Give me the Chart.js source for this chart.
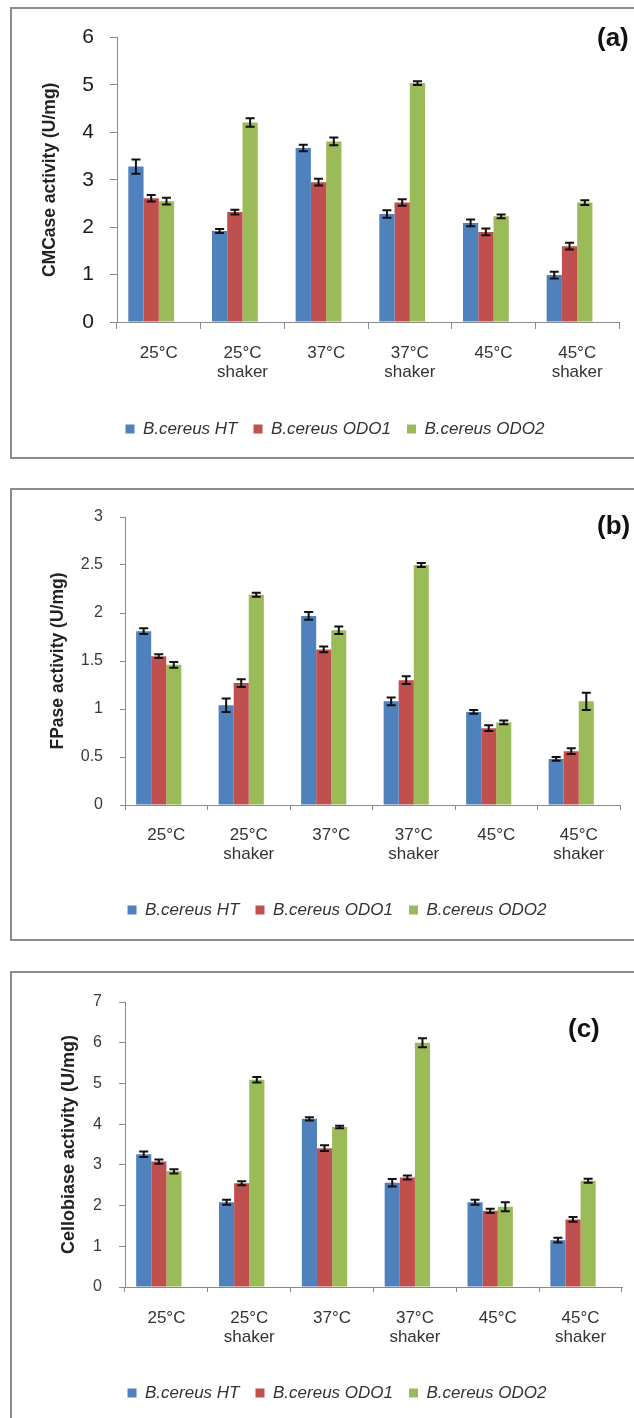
<!DOCTYPE html>
<html><head><meta charset="utf-8">
<script src="https://cdn.jsdelivr.net/npm/chart.js@4.4.0/dist/chart.umd.min.js"></script>
<style>
html,body{margin:0;padding:0;background:#fff;overflow:hidden;width:634px;height:1418px;position:relative;}
.frame{position:absolute;border:2px solid #8c8c8c;box-sizing:border-box;}
canvas{position:absolute;}
.tag{position:absolute;font:bold 26px "Liberation Sans",Arial,sans-serif;color:#111;line-height:30px;}
</style></head><body>
<div class="frame" style="left:10px;top:7px;width:700px;height:452px"></div>
<div class="frame" style="left:10px;top:488px;width:700px;height:453px"></div>
<div class="frame" style="left:10px;top:971px;width:700px;height:500px"></div>
<canvas id="ca" width="646" height="448" style="left:12px;top:9px"></canvas>
<canvas id="cb" width="650" height="449" style="left:12px;top:490px"></canvas>
<canvas id="cc" width="650" height="449" style="left:12px;top:973px"></canvas>
<div class="tag" style="left:597px;top:22px">(a)</div>
<div class="tag" style="left:597px;top:510px">(b)</div>
<div class="tag" style="left:568px;top:1013px">(c)</div>
<script>
// ---------- data ----------
const categories = ['25°C', ['25°C','shaker'], '37°C', ['37°C','shaker'], '45°C', ['45°C','shaker']];
const seriesNames = ['B.cereus HT', 'B.cereus ODO1', 'B.cereus ODO2'];

// (a) CMCase activity (U/mg)
const cmcHT      = [3.28, 1.92, 3.67, 2.28, 2.09, 0.99];
const cmcODO1    = [2.61, 2.32, 2.95, 2.52, 1.90, 1.60];
const cmcODO2    = [2.55, 4.21, 3.81, 5.04, 2.23, 2.52];
const cmcErrHT   = [0.15, 0.04, 0.07, 0.08, 0.07, 0.07];
const cmcErrODO1 = [0.07, 0.05, 0.07, 0.07, 0.07, 0.07];
const cmcErrODO2 = [0.07, 0.09, 0.08, 0.04, 0.04, 0.05];
const cmcTicks   = [0, 1, 2, 3, 4, 5, 6];

// (b) FPase activity (U/mg)
const fpHT      = [1.81, 1.04, 1.97, 1.08, 0.97, 0.48];
const fpODO1    = [1.55, 1.27, 1.62, 1.30, 0.80, 0.56];
const fpODO2    = [1.46, 2.19, 1.82, 2.50, 0.86, 1.08];
const fpErrHT   = [0.03, 0.07, 0.04, 0.04, 0.02, 0.02];
const fpErrODO1 = [0.02, 0.04, 0.03, 0.04, 0.03, 0.03];
const fpErrODO2 = [0.03, 0.02, 0.04, 0.02, 0.02, 0.09];
const fpTicks   = [0, 0.5, 1, 1.5, 2, 2.5, 3];

// (c) Cellobiase activity (U/mg)
const cbHT      = [3.26, 2.08, 4.13, 2.56, 2.08, 1.15];
const cbODO1    = [3.08, 2.55, 3.41, 2.69, 1.87, 1.66];
const cbODO2    = [2.84, 5.09, 3.93, 6.00, 1.97, 2.61];
const cbErrHT   = [0.07, 0.06, 0.04, 0.09, 0.06, 0.06];
const cbErrODO1 = [0.05, 0.05, 0.07, 0.05, 0.05, 0.06];
const cbErrODO2 = [0.05, 0.07, 0.03, 0.11, 0.11, 0.05];
const cbTicks   = [0, 1, 2, 3, 4, 5, 6, 7];

// empty 4th slot of the original Excel series layout (keeps bars left of centre)
const emptySlot = [null, null, null, null, null, null];

const COLORS = ['#4F81BD', '#C0504D', '#9BBB59'];
const FONT = '"Liberation Sans", Arial, sans-serif';

const errorBarPlugin = {
  id: 'errorBars',
  afterDatasetsDraw(chart) {
    const ctx = chart.ctx, ys = chart.scales.y;
    chart.data.datasets.forEach((ds, i) => {
      if (!ds.errors) return;
      const meta = chart.getDatasetMeta(i);
      meta.data.forEach((bar, j) => {
        const v = ds.data[j], e = ds.errors[j];
        if (v == null || e == null) return;
        const x = bar.x;
        const yt = ys.getPixelForValue(v + e), yb = ys.getPixelForValue(v - e);
        ctx.save();
        ctx.strokeStyle = '#111';
        ctx.lineWidth = 2;
        ctx.beginPath();
        ctx.moveTo(x, yt); ctx.lineTo(x, yb);
        ctx.moveTo(x - 4.5, yt); ctx.lineTo(x + 4.5, yt);
        ctx.moveTo(x - 4.5, yb); ctx.lineTo(x + 4.5, yb);
        ctx.stroke();
        ctx.restore();
      });
    });
  }
};

function build(id, p) {
  const datasets = p.values.map((vals, k) => ({
    label: seriesNames[k], data: vals, errors: p.errors[k],
    backgroundColor: COLORS[k], borderWidth: 0
  }));
  datasets.push({ label: '', data: emptySlot, backgroundColor: 'rgba(0,0,0,0)', borderWidth: 0 });
  return new Chart(document.getElementById(id), {
    type: 'bar',
    data: { labels: categories, datasets },
    options: {
      responsive: false, animation: false, devicePixelRatio: 1,
      datasets: { bar: { categoryPercentage: 0.73, barPercentage: 1 } },
      layout: { padding: { left: 0, right: 0, top: p.top, bottom: p.bottom } },
      plugins: {
        tooltip: { enabled: false },
        legend: {
          position: 'bottom',
          labels: {
            filter: it => it.text !== '',
            boxWidth: 9, boxHeight: 9, padding: 16, color: '#333',
            font: { family: FONT, size: 17, style: 'italic' }
          }
        }
      },
      scales: {
        x: {
          grid: { display: true, drawOnChartArea: false, drawTicks: true, tickLength: p.xTick, color: '#8a8a8a' },
          border: { display: true, color: '#8a8a8a', width: 1 },
          ticks: { color: '#333', padding: p.xPad, maxRotation: 0, autoSkip: false,
                   font: { family: FONT, size: 17, lineHeight: 1.12 } },
          afterFit: s => { s.height = p.xH; }
        },
        y: {
          position: 'left', min: p.ticks[0], max: p.ticks[p.ticks.length - 1],
          afterBuildTicks: s => { s.ticks = p.ticks.map(v => ({ value: v })); },
          grid: { display: true, drawOnChartArea: false, drawTicks: true, tickLength: p.yTick, color: '#8a8a8a' },
          border: { display: true, color: '#8a8a8a', width: 1 },
          ticks: { color: p.tickColor, padding: p.yPad, font: { family: FONT, size: p.tickSize },
                   callback: v => String(v) },
          title: { display: true, text: p.title, color: '#222',
                   padding: { top: p.titlePad, bottom: 0 },
                   font: { family: FONT, size: p.titleSize, weight: 'bold' } },
          afterFit: s => { s.width = p.yW; }
        },
        yR: {
          position: 'right', display: true,
          grid: { display: false }, border: { display: false }, ticks: { display: false },
          afterFit: s => { s.width = p.rW; }
        }
      }
    },
    plugins: [errorBarPlugin]
  });
}

build('ca', {
  values: [cmcHT, cmcODO1, cmcODO2], errors: [cmcErrHT, cmcErrODO1, cmcErrODO2],
  ticks: cmcTicks, title: 'CMCase activity (U/mg)', titleSize: 17.5, titlePad: 28,
  top: 25, bottom: 9.5, xH: 82.5, yW: 105, rW: 39,
  xTick: 7, yTick: 7, xPad: 14.5, yPad: 16, tickSize: 21, tickColor: '#1a1a1a'
});
build('cb', {
  values: [fpHT, fpODO1, fpODO2], errors: [fpErrHT, fpErrODO1, fpErrODO2],
  ticks: fpTicks, title: 'FPase activity (U/mg)', titleSize: 17.5, titlePad: 36,
  top: 27, bottom: 10.5, xH: 80.5, yW: 113, rW: 42,
  xTick: 5, yTick: 5, xPad: 15.5, yPad: 17, tickSize: 16, tickColor: '#3a3a3a'
});
build('cc', {
  values: [cbHT, cbODO1, cbODO2], errors: [cbErrHT, cbErrODO1, cbErrODO2],
  ticks: cbTicks, title: 'Cellobiase activity (U/mg)', titleSize: 18, titlePad: 46,
  top: 29, bottom: 10.5, xH: 81.5, yW: 113, rW: 40,
  xTick: 5, yTick: 6, xPad: 16.5, yPad: 17, tickSize: 16, tickColor: '#3a3a3a'
});
</script>
</body></html>
